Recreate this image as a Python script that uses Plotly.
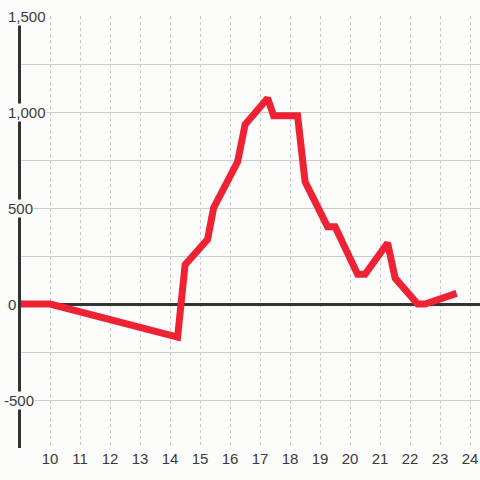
import plotly.graph_objects as go

# hour of day vs. value
hours = [8.9, 10.0, 14.25, 14.5, 15.25, 15.45, 16.25, 16.5, 17.25, 17.45,
         18.25, 18.5, 19.25, 19.5, 20.25, 20.5, 21.25, 21.5, 22.25, 22.5, 23.55]
values = [0, 0, -172, 205, 337, 500, 740, 935, 1072, 980,
          980, 637, 402, 402, 155, 155, 318, 135, 0, 0, 55]

x_ticks = list(range(10, 25))
y_ticks = [-500, 0, 500, 1000, 1500]

BG = "#fcfcfb"
TEXT = "#3a3a3a"
FONT = "Liberation Sans, Arial, sans-serif"

fig = go.Figure()

fig.add_trace(go.Scatter(
    x=hours, y=values,
    mode="lines",
    line=dict(color="#ee2233", width=7),
    hoverinfo="skip",
))

# y tick labels sit on top of the axis line, masked by the background
for v in y_ticks:
    left_px = 3 if v < 0 else 7
    fig.add_annotation(
        x=(left_px - 21) / 459, xref="paper", xanchor="left",
        y=v, yref="y", yanchor="middle",
        text=f"{v:,}",
        showarrow=False,
        bgcolor=BG,
        borderpad=0,
        font=dict(family=FONT, size=15, color=TEXT),
    )

fig.update_layout(
    width=480, height=480,
    margin=dict(l=21, r=0, t=16, b=32, autoexpand=False),
    paper_bgcolor=BG,
    plot_bgcolor=BG,
    showlegend=False,
    font=dict(family=FONT, size=15, color=TEXT),
)

fig.update_xaxes(
    range=[9.03, 24.33],
    tickvals=x_ticks,
    ticks="",
    showline=False,
    showgrid=True,
    gridcolor="#c8c8c8",
    griddash="dot",
    gridwidth=1,
    zeroline=False,
    automargin=False,
    tickfont=dict(family=FONT, size=15, color=TEXT),
)

fig.update_yaxes(
    range=[-750, 1500],
    tickvals=[-750, -500, -250, 0, 250, 500, 750, 1000, 1250, 1500],
    showticklabels=False,
    ticks="",
    showgrid=True,
    gridcolor="#cccccc",
    gridwidth=1,
    showline=True,
    linecolor="#333333",
    linewidth=3,
    zeroline=True,
    zerolinecolor="#333333",
    zerolinewidth=3,
    automargin=False,
)

fig.write_html("out.html", config={"displayModeBar": False},
               post_script="document.body.style.margin='0';")
